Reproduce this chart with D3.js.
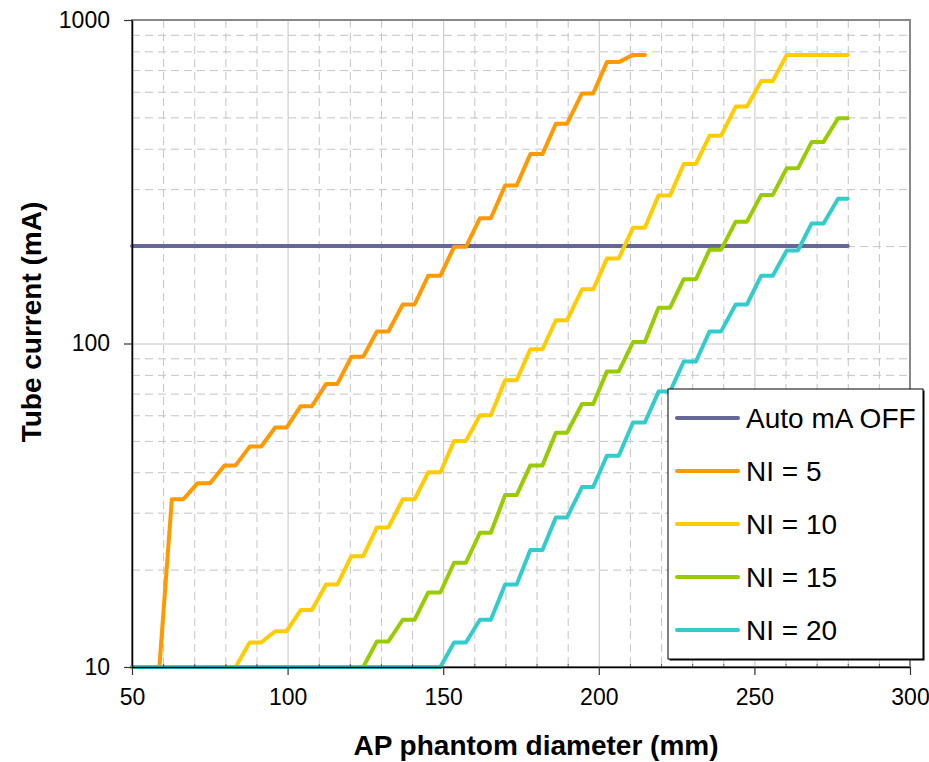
<!DOCTYPE html>
<html>
<head>
<meta charset="utf-8">
<script src="https://cdn.jsdelivr.net/npm/d3@7"></script>
<style>
body { margin: 0; background: #fff; }
text { font-family: "Liberation Sans", Arial, sans-serif; fill: #000; }
</style>
</head>
<body>
<div id="chart"></div>
<script>
// AP phantom diameter (mm) at each sample
var diameter = [50, 58.8, 62.8, 66.5, 71.1, 75.1, 79.7, 83.3, 87.8, 91.5,
	96.0, 99.7, 104.2, 107.8, 112.4, 116.0, 120.5, 124.3, 128.7, 132.4,
	137.0, 140.8, 145.2, 149.1, 153.5, 157.3, 161.8, 165.3, 169.9, 173.6,
	178.0, 181.9, 186.2, 189.8, 194.6, 198.2, 202.6, 206.4, 211.0, 214.8,
	219.2, 222.9, 227.3, 231.2, 235.6, 239.3, 244.0, 247.6, 252.2, 255.9,
	260.4, 264.0, 268.4, 272.2, 276.9, 280];

// tube current (mA)
var ni5 = [10, 10, 33, 33, 37, 37, 42, 42, 48, 48,
	55, 55, 64, 64, 75, 75, 91, 91, 109, 109,
	132, 132, 162, 162, 199, 199, 244, 244, 308, 308,
	385, 385, 478, 478, 593, 593, 741, 741, 780, 780];

var ni10 = [10, 10, 10, 10, 10, 10, 10, 10, 11.9, 11.9,
	12.9, 12.9, 15, 15, 18, 18, 22, 22, 27, 27,
	33, 33, 40, 40, 50, 50, 60, 60, 77, 77,
	96, 96, 118, 118, 147, 147, 183, 183, 228, 228,
	287, 287, 359, 359, 439, 439, 540, 540, 648, 648,
	780, 780, 780, 780, 780, 780];

var ni15 = [10, 10, 10, 10, 10, 10, 10, 10, 10, 10,
	10, 10, 10, 10, 10, 10, 10, 10, 12, 12,
	14, 14, 17, 17, 21, 21, 26, 26, 34, 34,
	42, 42, 53, 53, 65, 65, 82, 82, 101, 101,
	129, 129, 158, 158, 195, 195, 238, 238, 288, 288,
	348, 348, 420, 420, 497, 497];

var ni20 = [10, 10, 10, 10, 10, 10, 10, 10, 10, 10,
	10, 10, 10, 10, 10, 10, 10, 10, 10, 10,
	10, 10, 10, 10, 11.9, 11.9, 14, 14, 18, 18,
	23, 23, 29, 29, 36, 36, 45, 45, 57, 57,
	71, 71, 88, 88, 109, 109, 132, 132, 162, 162,
	194, 194, 235, 235, 280, 280];

var autoX = [50, 280];
var autoMA = [200, 200];

var xTicks = [50, 100, 150, 200, 250, 300];
var yTicks = [10, 100, 1000];

var series = [
	{ name: "Auto mA OFF", color: "#666699", x: autoX, y: autoMA },
	{ name: "NI = 5", color: "#FF9900", x: diameter, y: ni5 },
	{ name: "NI = 10", color: "#FFCC00", x: diameter, y: ni10 },
	{ name: "NI = 15", color: "#99CC00", x: diameter, y: ni15 },
	{ name: "NI = 20", color: "#33CCCC", x: diameter, y: ni20 }
];

drawChart();

function drawChart()
{
	var margin = { top: 20, right: 19, bottom: 95, left: 132 },
		width = 929 - margin.left - margin.right,
		height = 762 - margin.top - margin.bottom;

	var root = d3.select("#chart").append("svg")
		.attr("width", 929)
		.attr("height", 762);

	root.append("rect")
		.attr("width", 929)
		.attr("height", 762)
		.attr("fill", "#fff");

	var svg = root.append("g")
		.attr("transform", "translate(" + margin.left + "," + margin.top + ")");

	var x = d3.scaleLinear()
		.domain([50, 300])
		.range([0, width]);

	var y = d3.scaleLog()
		.domain([10, 1000])
		.range([height, 0]);

	// minor gridlines (dashed)
	var minorX = d3.range(60, 300, 10).filter(function(d) { return d % 50 != 0; });
	var minorY = y.ticks().filter(function(d) { return yTicks.indexOf(d) < 0; });

	svg.append("g")
		.attr("class", "grid minor")
		.call(d3.axisBottom(x).tickValues(minorX).tickSize(height).tickFormat(""))
		.call(function(g) { g.select(".domain").remove(); })
		.selectAll("line")
		.attr("stroke", "#c4c4c4")
		.attr("stroke-dasharray", "8,5");

	svg.append("g")
		.attr("class", "grid minor")
		.call(d3.axisLeft(y).tickValues(minorY).tickSize(-width).tickFormat(""))
		.call(function(g) { g.select(".domain").remove(); })
		.selectAll("line")
		.attr("stroke", "#c4c4c4")
		.attr("stroke-dasharray", "8,5");

	// major gridlines
	svg.append("g")
		.attr("class", "grid major")
		.call(d3.axisBottom(x).tickValues([100, 150, 200, 250]).tickSize(height).tickFormat(""))
		.call(function(g) { g.select(".domain").remove(); })
		.selectAll("line")
		.attr("stroke", "#c4c4c4");

	svg.append("g")
		.attr("class", "grid major")
		.call(d3.axisLeft(y).tickValues([100]).tickSize(-width).tickFormat(""))
		.call(function(g) { g.select(".domain").remove(); })
		.selectAll("line")
		.attr("stroke", "#c4c4c4");

	// plot border
	svg.append("rect")
		.attr("width", width)
		.attr("height", height)
		.attr("fill", "none")
		.attr("stroke", "#888")
		.attr("stroke-width", 2);

	var line = d3.line()
		.x(function(d) { return x(d.x); })
		.y(function(d) { return y(d.y); });

	svg.selectAll(".series")
		.data(series)
		.enter()
		.append("path")
		.attr("class", "series")
		.attr("d", function(s)
		{
			return line(d3.range(s.y.length).map(function(i) { return { x: s.x[i], y: s.y[i] }; }));
		})
		.attr("fill", "none")
		.attr("stroke", function(s) { return s.color; })
		.attr("stroke-width", 4)
		.attr("stroke-linejoin", "round")
		.attr("stroke-linecap", "round");

	// minor ticks on x axis
	svg.append("g")
		.attr("transform", "translate(0," + height + ")")
		.call(d3.axisTop(x).tickValues(minorX).tickSize(3).tickFormat(""))
		.call(function(g) { g.select(".domain").remove(); })
		.selectAll("line")
		.attr("stroke", "#555");

	var xAxis = svg.append("g")
		.attr("class", "axis axis--x")
		.attr("transform", "translate(0," + height + ")")
		.call(d3.axisBottom(x).tickValues(xTicks).tickSize(8).tickSizeOuter(0).tickPadding(14));

	var yAxis = svg.append("g")
		.attr("class", "axis axis--y")
		.call(d3.axisLeft(y).tickValues(yTicks).tickFormat(d3.format("d")).tickSize(8).tickSizeOuter(0).tickPadding(14));

	[xAxis, yAxis].forEach(function(a)
	{
		a.select(".domain").attr("stroke", "#000").attr("stroke-width", 1.5);
		a.selectAll(".tick line").attr("stroke", "#333").attr("stroke-width", 1.2);
		a.selectAll("text")
			.attr("fill", "#000")
			.style("font-family", "'Liberation Sans', Arial, sans-serif")
			.style("font-size", "23px");
	});

	// axis titles
	root.append("text")
		.attr("x", 536)
		.attr("y", 755)
		.attr("text-anchor", "middle")
		.style("font-size", "28px")
		.style("font-weight", "bold")
		.text("AP phantom diameter (mm)");

	root.append("text")
		.attr("transform", "translate(41,322) rotate(-90)")
		.attr("text-anchor", "middle")
		.style("font-size", "28px")
		.style("font-weight", "bold")
		.text("Tube current (mA)");

	// legend
	var legend = root.append("g")
		.attr("transform", "translate(668,389)");

	legend.append("rect")
		.attr("x", 1.5)
		.attr("y", 1.5)
		.attr("width", 255)
		.attr("height", 270)
		.attr("fill", "#000");

	legend.append("rect")
		.attr("width", 255)
		.attr("height", 270)
		.attr("fill", "#fff")
		.attr("stroke", "#000")
		.attr("stroke-width", 1);

	var item = legend.selectAll(".item")
		.data(series)
		.enter()
		.append("g")
		.attr("class", "item")
		.attr("transform", function(d, i) { return "translate(0," + (29 + i * 53) + ")"; });

	item.append("line")
		.attr("x1", 9)
		.attr("x2", 70)
		.attr("stroke", function(d) { return d.color; })
		.attr("stroke-width", 4)
		.attr("stroke-linecap", "round");

	item.append("text")
		.attr("x", 78)
		.attr("dy", "0.35em")
		.style("font-size", "28px")
		.text(function(d) { return d.name; });
}
</script>
</body>
</html>
